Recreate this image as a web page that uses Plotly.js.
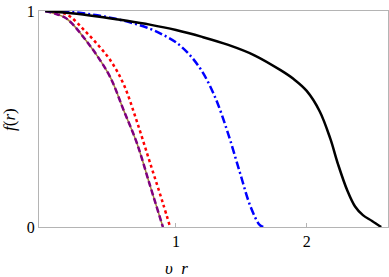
<!DOCTYPE html>
<html>
<head>
<meta charset="utf-8">
<script src="https://cdn.plot.ly/plotly-3.0.1.min.js"></script>
<style>body{margin:0;background:#fff}</style>
</head>
<body>
<div id="plot_f" style="width:389px;height:277px"></div>
<script>
// curves
var rBlack = [0, 0.2, 0.4, 0.6, 0.8, 1.0, 1.2, 1.4, 1.6, 1.8, 1.9, 2.0, 2.1, 2.18, 2.24, 2.31, 2.37, 2.43, 2.5, 2.57];
var fBlack = [1, 0.99, 0.975, 0.957, 0.937, 0.912, 0.88, 0.843, 0.795, 0.726, 0.685, 0.63, 0.535, 0.41, 0.29, 0.17, 0.095, 0.055, 0.028, 0];

var rBlue = [0, 0.2, 0.4, 0.6, 0.8, 0.9, 1.0, 1.1, 1.2, 1.3, 1.4, 1.49, 1.57, 1.64, 1.67];
var fBlue = [1, 0.995, 0.98, 0.955, 0.918, 0.89, 0.855, 0.80, 0.72, 0.60, 0.43, 0.25, 0.095, 0.01, 0];

var rRed = [0, 0.1, 0.15, 0.2, 0.3, 0.4, 0.5, 0.6, 0.7, 0.8, 0.9, 0.955];
var fRed = [1, 0.996, 0.988, 0.97, 0.91, 0.845, 0.77, 0.66, 0.49, 0.30, 0.11, 0];

var rPurple = [0, 0.074, 0.15, 0.2, 0.3, 0.4, 0.5, 0.6, 0.7, 0.8, 0.9];
var fPurple = [1, 0.988, 0.97, 0.945, 0.873, 0.79, 0.69, 0.54, 0.39, 0.195, 0];

var xTicks = [1, 2];
var yTicks = [0, 1];

var olive = {x: rPurple, y: fPurple, mode: 'lines', line: {color: '#a0803a', width: 1.5, shape: 'spline'}};
var purple = {x: rPurple, y: fPurple, mode: 'lines', line: {color: '#800080', width: 2.5, dash: '6px,3px', shape: 'spline'}};
var red = {x: rRed, y: fRed, mode: 'lines', line: {color: '#ff0000', width: 2.5, dash: 'dot', shape: 'spline'}};
var blue = {x: rBlue, y: fBlue, mode: 'lines', line: {color: '#0000ff', width: 2.5, dash: '8px,3px,2px,3px', shape: 'spline'}};
var black = {x: rBlack, y: fBlack, mode: 'lines', line: {color: '#000000', width: 2.5, shape: 'spline'}};

var data = [olive, purple, red, blue, black];

var serif = '"Liberation Serif", "DejaVu Serif", serif';
var fnt = {family: serif, size: 16, color: '#000'};
var titleFnt = {family: serif, size: 17, color: '#000'};
var layout = {
  width: 389, height: 277,
  margin: {l: 39, r: 1, t: 11, b: 50},
  showlegend: false,
  paper_bgcolor: '#fff', plot_bgcolor: '#fff',
  xaxis: {
    range: [-0.048, 2.622], tickvals: xTicks, ticktext: ['1', '2'],
    ticks: 'inside', ticklen: 4, tickcolor: '#b4b4b4',
    showline: true, mirror: true, linecolor: '#b4b4b4', linewidth: 1,
    showgrid: false, zeroline: false, tickfont: fnt
  },
  yaxis: {
    range: [0, 1], tickvals: yTicks, ticktext: ['0', '1'], ticks: '',
    showline: true, mirror: true, linecolor: '#b4b4b4', linewidth: 1,
    showgrid: false, zeroline: false, tickfont: fnt
  },
  annotations: [
    {text: '<i>υ  r</i>', xref: 'paper', yref: 'paper', x: 0.395, y: -0.19,
     showarrow: false, font: titleFnt, xanchor: 'center', yanchor: 'middle'},
    {text: '<i>f</i>(<i>r</i>)', xref: 'paper', yref: 'paper', x: -0.086, y: 0.5,
     textangle: -90, showarrow: false, font: titleFnt, xanchor: 'center', yanchor: 'middle'}
  ]
};
Plotly.newPlot('plot_f', data, layout, {displayModeBar: false});
</script>
</body>
</html>
